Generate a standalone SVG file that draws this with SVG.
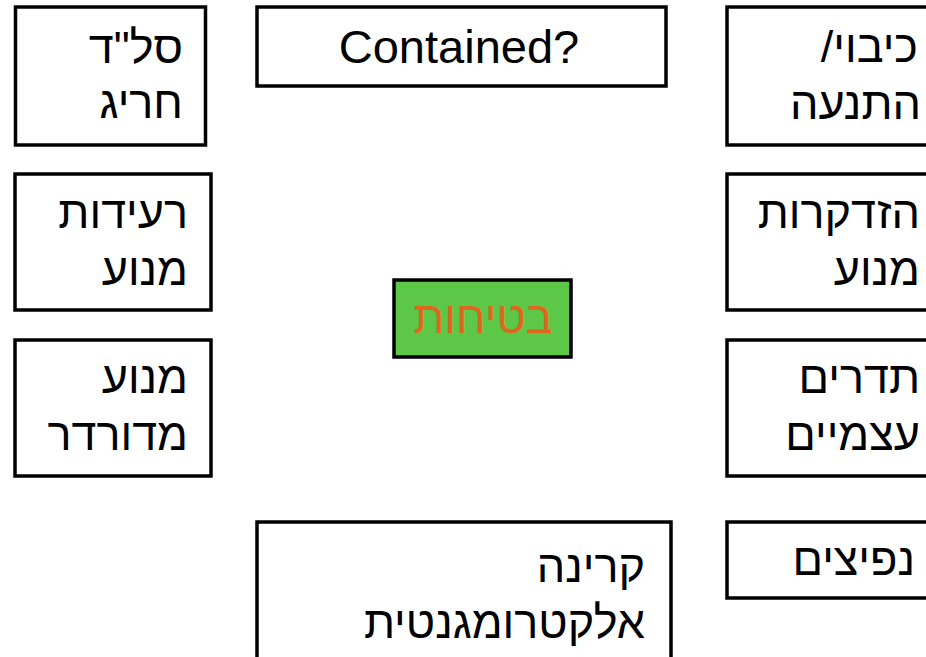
<svg xmlns="http://www.w3.org/2000/svg" width="926" height="657" viewBox="0 0 926 657">
<style>
.box{fill:#fff;stroke:#000;stroke-width:3.5}
.t{font-family:"Liberation Sans","DejaVu Sans",sans-serif;font-size:45px;fill:#000}
.h{direction:rtl;unicode-bidi:embed;text-anchor:start}
.m{text-anchor:middle}
</style>
<rect width="926" height="657" fill="#fff"/>
<g id="n1"><rect class="box" x="15.5" y="7" width="190" height="138"/><text class="t h" x="183" y="63" direction="rtl">סל"ד</text><text class="t h" x="183" y="118" direction="rtl">חריג</text></g>
<g id="n2"><rect class="box" x="257" y="7" width="409" height="79"/><text class="t m" x="459" y="63" style="font-size:47px">Contained?</text></g>
<g id="n3"><rect class="box" x="727" y="7" width="230" height="138"/><text class="t h" x="918" y="62" direction="rtl">כיבוי/</text><text class="t h" x="921" y="119" direction="rtl">התנעה</text></g>
<g id="n4"><rect class="box" x="15" y="174" width="196" height="136"/><text class="t h" x="188" y="228" direction="rtl">רעידות</text><text class="t h" x="188" y="285" direction="rtl">מנוע</text></g>
<g id="n5"><rect class="box" x="727" y="174" width="230" height="136"/><text class="t h" x="920" y="228" direction="rtl">הזדקרות</text><text class="t h" x="920" y="285" direction="rtl">מנוע</text></g>
<g id="n6"><rect class="box" x="15" y="340" width="196" height="136"/><text class="t h" x="188" y="393" direction="rtl">מנוע</text><text class="t h" x="188" y="450" direction="rtl">מדורדר</text></g>
<g id="n7"><rect class="box" x="727" y="340" width="230" height="136"/><text class="t h" x="920" y="393" direction="rtl">תדרים</text><text class="t h" x="920" y="450" direction="rtl">עצמיים</text></g>
<g id="n8"><rect x="394" y="280" width="177" height="77" fill="#5dc848" stroke="#000" stroke-width="3.5"/><text class="t m" x="483" y="333" style="fill:#e0661e">בטיחות</text></g>
<g id="n9"><rect class="box" x="257" y="522" width="414" height="200"/><text class="t h" x="645" y="582" direction="rtl">קרינה</text><text class="t h" x="645" y="638" direction="rtl">אלקטרומגנטית</text></g>
<g id="n10"><rect class="box" x="727" y="522" width="230" height="76"/><text class="t h" x="915" y="575" direction="rtl">נפיצים</text></g>
<g id="connectors"/>
</svg>
